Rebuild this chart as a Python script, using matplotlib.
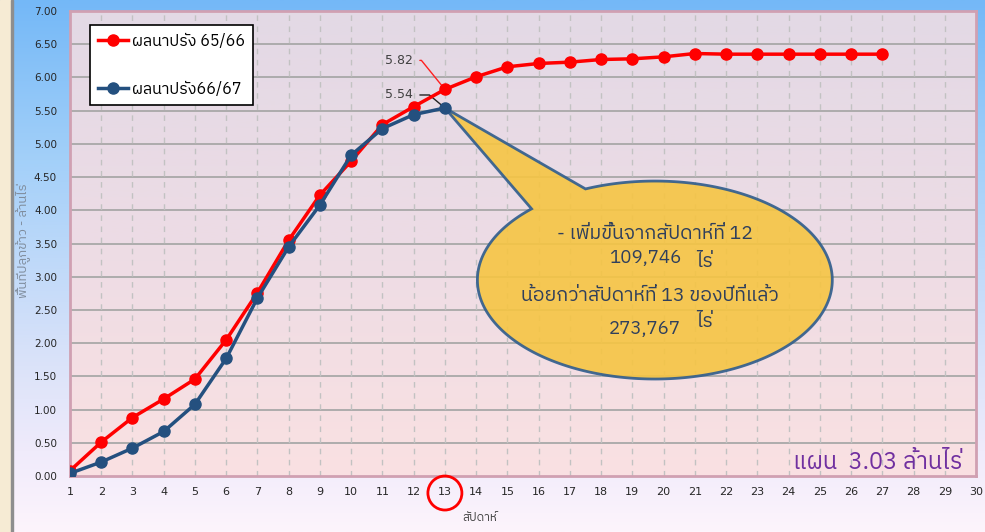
import numpy as np
import matplotlib
matplotlib.use("Agg")
import matplotlib.pyplot as plt
from matplotlib import font_manager as fm
from matplotlib.colors import LinearSegmentedColormap
from matplotlib.path import Path
from matplotlib.patches import PathPatch, Rectangle, Ellipse
from matplotlib.transforms import ScaledTranslation

# ---------------- data ----------------
weeks = list(range(1, 31))
weeks_6566 = list(range(1, 28))
area_6566 = [0.08, 0.51, 0.88, 1.16, 1.46, 2.05, 2.76, 3.55, 4.23, 4.74,
             5.29, 5.56, 5.82, 6.01, 6.16, 6.21, 6.23, 6.27, 6.28, 6.31,
             6.36, 6.35, 6.35, 6.35, 6.35, 6.35, 6.35]
weeks_6667 = list(range(1, 14))
area_6667 = [0.04, 0.21, 0.42, 0.67, 1.08, 1.77, 2.68, 3.45, 4.08, 4.83,
             5.23, 5.44, 5.54]
series_labels = ["ผลนาปรัง 65/66", "ผลนาปรัง66/67"]
yticks = [0.0, 0.5, 1.0, 1.5, 2.0, 2.5, 3.0, 3.5, 4.0, 4.5, 5.0, 5.5, 6.0, 6.5, 7.0]
current_week = 13
callout_lines = ["- เพิ่มขึ้นจากสัปดาห์ที่ 12", "109,746", "ไร่",
                 "น้อยกว่าสัปดาห์ที่ 13 ของปีที่แล้ว", "273,767", "ไร่"]
plan_text = "แผน  3.03 ล้านไร่"
ylabel_text = "พื้นที่ปลูกข้าว - ล้านไร่"
xlabel_text = "สัปดาห์"

# ---------------- fonts ----------------
thai_fams = []
try:
    from fontTools.ttLib import TTFont
    seen = set()
    for f in fm.fontManager.ttflist:
        if f.fname in seen:
            continue
        seen.add(f.fname)
        try:
            tt = TTFont(f.fname, fontNumber=0, lazy=True)
            cmap = tt.getBestCmap()
            if cmap and 0x0E01 in cmap and 0x0E49 in cmap and 0x0E2A in cmap:
                if f.name not in thai_fams:
                    thai_fams.append(f.name)
        except Exception:
            pass
except Exception:
    pass
pref = [n for n in thai_fams if "Sans" in n] + [n for n in thai_fams if "Sans" not in n]
FAM = pref[:1] + ["DejaVu Sans"]
plt.rcParams['font.family'] = FAM

# ---------------- figure ----------------
fig = plt.figure(figsize=(9.85, 5.32), dpi=100)

# background
bg = fig.add_axes([0, 0, 1, 1], zorder=-10)
bg.set_axis_off()
cm_bg = LinearSegmentedColormap.from_list("bg", [(0, "#74B8F7"), (0.3, "#A3D0F9"),
                                               (0.65, "#D6E1F9"), (0.85, "#F0EBFB"),
                                               (1.0, "#FDF4FC")])
grad = np.linspace(0, 1, 256).reshape(-1, 1)
bg.imshow(grad, cmap=cm_bg, aspect="auto", extent=(0, 1, 0, 1), origin="upper")
bg.add_patch(Rectangle((0, 0), 11 / 985, 1, color="#F6EBD4", zorder=2))
bg.add_patch(Rectangle((11 / 985, 0), 2 / 985, 1, color="#8E8E8E", zorder=3))
bg.set_xlim(0, 1)
bg.set_ylim(0, 1)

L, R, B, T = 70 / 985, 976 / 985, (532 - 476) / 532, (532 - 11) / 532
ax = fig.add_axes([L, B, R - L, T - B])
ax.set_facecolor("none")
cm_ax = LinearSegmentedColormap.from_list("ax", [(0, "#E3D9E5"), (0.5, "#EDDCE5"), (1.0, "#FAE1E2")])
ax.imshow(grad, cmap=cm_ax, aspect="auto", extent=(0, 1, 0, 1), origin="upper",
          transform=ax.transAxes, zorder=0)

ax.set_xlim(1, 30)
ax.set_ylim(0, 7)
ax.set_xticks(weeks)
ax.set_yticks(yticks)
ax.set_yticklabels([f"{v:.2f}" for v in yticks])
ax.tick_params(axis="both", length=0, colors="#262626")
ax.tick_params(axis="y", labelsize=7.5, pad=9.4)
ax.tick_params(axis="x", labelsize=8, pad=8)
for lab in ax.get_xticklabels() + ax.get_yticklabels():
    lab.set_family("DejaVu Sans")

for yv in yticks[1:-1]:
    ax.axhline(yv, color="#A8A8A8", lw=1.3, zorder=1)
for xv in weeks[1:-1]:
    ax.axvline(xv, color="#C2C2C2", lw=1.0, ls=(0, (4, 4)), zorder=1)
for s in ax.spines.values():
    s.set_color("#D0A0B2")
    s.set_linewidth(2)

# series
ax.plot(weeks_6566, area_6566, color="#FF0000", lw=2.5, marker="o", ms=8,
        label=series_labels[0], zorder=4)
ax.plot(weeks_6667, area_6667, color="#24507F", lw=2.5, marker="o", ms=8,
        label=series_labels[1], zorder=5)

# data labels
i13 = weeks_6566.index(current_week)
ax.annotate(f"{area_6566[i13]:.2f}", xy=(current_week, area_6566[i13]),
            xytext=(-32, 29), textcoords="offset pixels", ha="right", va="center",
            fontsize=9, color="#404040", family="DejaVu Sans",
            arrowprops=dict(arrowstyle="-", color="#FF2020", lw=1,
                            shrinkA=3, shrinkB=4, relpos=(1, 0.5),
                            connectionstyle="angle,angleA=0,angleB=129,rad=0"))
j13 = weeks_6667.index(current_week)
ax.annotate(f"{area_6667[j13]:.2f}", xy=(current_week, area_6667[j13]),
            xytext=(-32, 13), textcoords="offset pixels", ha="right", va="center",
            fontsize=9, color="#404040", family="DejaVu Sans",
            arrowprops=dict(arrowstyle="-", color="#222222", lw=1,
                            shrinkA=3, shrinkB=2, relpos=(1, 0.5),
                            connectionstyle="angle,angleA=0,angleB=140,rad=0"))

# callout (ellipse + wedge toward current week point)
cx, cy = 19.72, 2.95
rw, rh = 5.68, 1.49
a0, a1 = np.deg2rad(134), np.deg2rad(113 + 360)
th = np.linspace(a0, a1, 300)
pts = np.column_stack([cx + rw * np.cos(th), cy + rh * np.sin(th)])
tip = np.array([[current_week, area_6667[j13]]])
verts = np.vstack([pts, tip, pts[:1]])
codes = [Path.MOVETO] + [Path.LINETO] * (len(verts) - 2) + [Path.CLOSEPOLY]
ax.add_patch(PathPatch(Path(verts, codes), facecolor="#F6C543", alpha=0.9,
                       edgecolor="#2E5C8E", lw=2, zorder=3))
tc = "#2F3F5C"
ax.text(19.72, 3.64, callout_lines[0], ha="center", va="center", fontsize=14, color=tc, zorder=6)
ax.text(19.40, 3.28, callout_lines[1], ha="center", va="center", fontsize=13.5, color=tc, zorder=6)
ax.text(21.32, 3.22, callout_lines[2], ha="center", va="center", fontsize=14, color=tc, zorder=6)
ax.text(19.56, 2.71, callout_lines[3], ha="center", va="center", fontsize=14, color=tc, zorder=6)
ax.text(19.40, 2.21, callout_lines[4], ha="center", va="center", fontsize=13.5, color=tc, zorder=6)
ax.text(21.32, 2.32, callout_lines[5], ha="center", va="center", fontsize=14, color=tc, zorder=6)

# plan text
ax.text(0.9845, 0.03, plan_text, transform=ax.transAxes, ha="right", va="center",
        fontsize=17, color="#7030A0", zorder=6)

# axis labels
ax.text(-0.0519, 0.507, ylabel_text, transform=ax.transAxes, rotation=90,
        ha="center", va="center", fontsize=9.5, color="#7F8C9C")
ax.text(0.4525, -0.09, xlabel_text, transform=ax.transAxes, ha="center", va="center",
        fontsize=8.5, color="#404040")

# red circle around current week tick label
circ_tr = fig.dpi_scale_trans + ScaledTranslation(current_week, -0.0366, ax.get_xaxis_transform())
ax.add_artist(Ellipse((0, 0), 0.34, 0.34, transform=circ_tr, fill=False,
                      edgecolor="#FF0000", lw=2, clip_on=False, zorder=7))

# legend
leg = ax.legend(loc="upper left", bbox_to_anchor=(0.022, 0.97), fontsize=11.5,
                frameon=True, fancybox=False, framealpha=1, edgecolor="black",
                labelspacing=2.0, handlelength=1.9, borderpad=0.5, handletextpad=0.25,
                borderaxespad=0)
leg.get_frame().set_linewidth(1.2)
leg.set_zorder(8)

fig.savefig("out.png", dpi=100)
